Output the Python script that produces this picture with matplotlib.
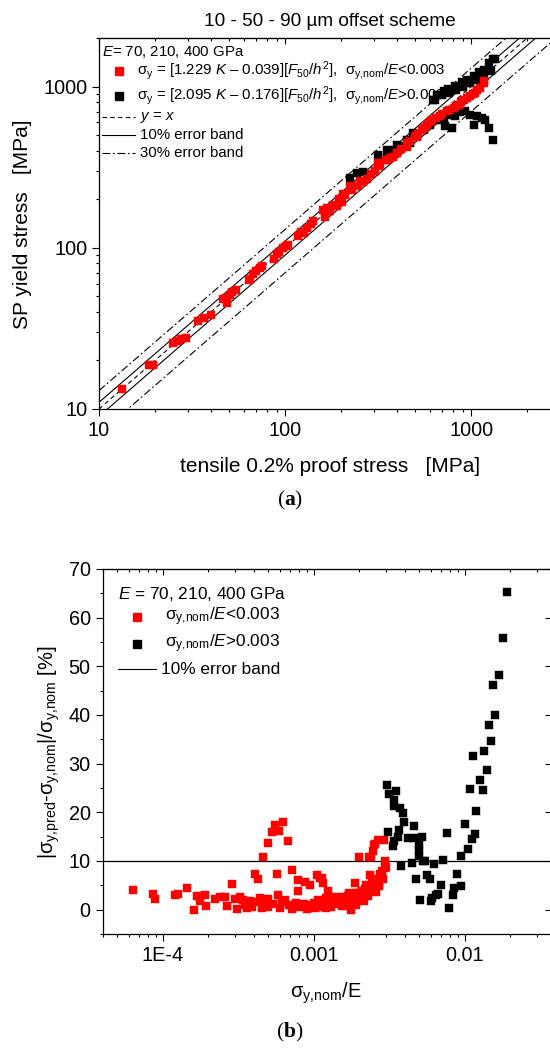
import matplotlib
matplotlib.use("Agg")
import matplotlib.pyplot as plt
from matplotlib.lines import Line2D
from matplotlib.ticker import LogLocator, NullFormatter, MultipleLocator
import numpy as np

plt.rcParams['font.family'] = 'Liberation Sans'
plt.rcParams['mathtext.fontset'] = 'custom'
plt.rcParams['mathtext.rm'] = 'Liberation Sans'
plt.rcParams['mathtext.it'] = 'Liberation Sans:italic'
plt.rcParams['mathtext.bf'] = 'Liberation Serif:bold'
plt.rcParams['mathtext.default'] = 'regular'

# (a) tensile proof stress vs SP yield stress [MPa]
top_red_x = [13.3, 18.6, 19.6, 24.9, 26.7, 27.5, 29.4, 34.2, 36.5, 39.8, 46.3, 48, 49, 50.6, 52, 54.5,
             63.7, 65, 67, 70, 73, 75, 87, 90, 93, 97, 101, 104, 118, 121, 126, 131, 137, 142,
             160, 163, 164, 168, 174, 180, 181, 190, 196, 198, 203, 205, 210, 223, 230, 245, 253,
             262, 275, 290, 305, 316, 324, 349, 353, 367, 381, 398, 400, 420, 451, 453, 470, 500,
             513, 520, 543, 560, 578, 600, 615, 650, 681, 700, 740, 760, 804, 830, 855, 880, 910,
             950, 988, 1020, 1051, 1080, 1117, 1167, 1175]
top_red_y = [13.3, 18.7, 18.7, 25.7, 26.3, 27, 27.6, 35.1, 36.8, 38.2, 47.8, 49, 45.5, 51.3, 53, 55.1,
             63.5, 64, 68.3, 72, 75.1, 77, 85.3, 92, 94, 99, 102, 104, 118, 125, 124, 133, 140, 146,
             172, 161, 156, 176, 169, 184, 181, 182, 200, 199, 191, 215, 213, 240, 228, 240, 258,
             255, 268, 285, 300, 337, 320, 352, 352, 361, 367, 387, 389, 412, 447, 424, 462, 491,
             489, 505, 541, 555, 581, 600, 624, 640, 654, 680, 703, 720, 738, 760, 773, 800, 830,
             850, 871, 900, 914, 950, 981, 1079, 1054]

top_black_x = [223, 244, 263, 316, 324, 352, 353, 382, 400, 424, 453, 470, 488, 511, 555, 603,
               627, 640, 654, 698, 710, 762, 755, 820, 830, 891, 906, 948, 988, 1029, 1077, 1095,
               1165, 1175, 1254, 1282, 1309, 1346,
               667, 710, 725, 771, 787, 820, 873, 929, 988, 1038, 1073, 1141, 1189, 1240, 1309]
top_black_y = [272, 292, 297, 378, 352, 378, 406, 406, 437, 426, 469, 447, 518, 491, 541, 581,
               830, 830, 892, 891, 935, 918, 968, 1014, 957, 1064, 1000, 1105, 1059, 1159, 1105, 1227,
               1275, 1188, 1403, 1240, 1486, 1472,
               623, 640, 566, 670, 554, 660, 692, 703, 670, 581, 654, 640, 623, 554, 469]

# (b) deviation [%] vs sigma_y,nom/E
bot_red_x = [6.4e-5, 8.7e-5, 8.9e-5, 1.21e-4, 1.27e-4, 1.44e-4, 1.62e-4, 1.68e-4, 1.77e-4, 1.9e-4,
             1.95e-4, 2.22e-4, 2.4e-4, 2.59e-4, 2.66e-4, 2.86e-4, 3.01e-4, 3.09e-4, 3.25e-4, 3.42e-4,
             3.5e-4, 3.6e-4, 3.79e-4, 3.9e-4, 4.08e-4, 4.2e-4, 4.3e-4, 4.41e-4, 4.53e-4, 4.65e-4,
             4.7e-4, 4.96e-4, 4.96e-4, 5.0e-4, 5.27e-4, 5.4e-4, 5.55e-4, 5.75e-4, 5.83e-4, 5.93e-4,
             6.0e-4, 6.2e-4, 6.3e-4, 6.45e-4, 6.73e-4, 6.9e-4, 7.15e-4, 7.2e-4, 7.34e-4, 7.6e-4,
             7.83e-4, 7.83e-4, 8.0e-4, 8.33e-4, 8.6e-4, 8.77e-4, 9.0e-4, 9.45e-4, 9.6e-4, 1.0e-3,
             1.02e-3, 1.06e-3, 1.07e-3, 1.08e-3, 1.11e-3, 1.13e-3, 1.15e-3, 1.16e-3, 1.2e-3, 1.21e-3,
             1.24e-3, 1.25e-3, 1.3e-3, 1.31e-3, 1.35e-3, 1.38e-3, 1.4e-3, 1.45e-3, 1.46e-3, 1.5e-3,
             1.53e-3, 1.55e-3, 1.6e-3, 1.62e-3, 1.65e-3, 1.7e-3, 1.71e-3, 1.75e-3, 1.78e-3, 1.8e-3,
             1.85e-3, 1.88e-3, 1.9e-3, 1.92e-3, 1.95e-3, 2.0e-3, 2.0e-3, 2.06e-3, 2.1e-3, 2.15e-3,
             2.2e-3, 2.23e-3, 2.3e-3, 2.33e-3, 2.35e-3, 2.38e-3, 2.4e-3, 2.45e-3, 2.46e-3, 2.5e-3,
             2.51e-3, 2.55e-3, 2.55e-3, 2.6e-3, 2.65e-3, 2.69e-3, 2.7e-3, 2.75e-3, 2.77e-3, 2.85e-3,
             2.89e-3, 2.93e-3, 2.95e-3, 2.96e-3, 3.0e-3]
bot_red_y = [4.0, 3.3, 2.2, 3.1, 3.3, 4.4, 0.0, 2.9, 1.7, 3.1,
             0.7, 2.2, 2.7, 2.7, 0.8, 5.3, 2.2, 0.1, 2.6, 2.0,
             1.0, 0.3, 1.7, 0.5, 7.4, 1.5, 6.3, 2.4, 0.3, 10.8,
             1.8, 13.7, 2.2, 0.6, 16.0, 1.2, 17.4, 7.4, 3.1, 16.2,
             0.4, 1.5, 18.1, 2.0, 14.2, 1.0, 8.1, 0.2, 0.7, 1.3,
             6.0, 3.8, 0.5, 0.8, 1.1, 5.6, 0.2, 5.1, 0.9, 1.4,
             0.3, 7.2, 2.0, 0.5, 6.5, 6.5, 1.0, 5.5, 2.4, 0.3,
             3.8, 1.2, 0.6, 2.7, 1.8, 1.4, 2.6, 1.1, 2.1, 2.0,
             2.7, 0.8, 2.3, 0.8, 1.5, 2.9, 3.4, 1.2, 0.0, 3.0,
             2.0, 5.5, 1.0, 3.4, 3.5, 10.8, 2.5, 2.1, 3.8, 1.8,
             4.3, 5.1, 2.9, 10.9, 7.2, 10.8, 4.5, 5.8, 12.0, 13.3,
             4.1, 6.4, 13.4, 3.6, 14.4, 4.8, 5.5, 7.4, 7.2, 8.0,
             6.2, 14.3, 9.9, 8.5, 8.8]

bot_black_x = [0.0191, 0.018, 0.0169, 0.0153, 0.0158, 0.0144, 0.015, 0.0134, 0.0114, 0.0141,
               0.0127, 0.0108, 0.0132, 0.0119, 0.0101, 0.0117, 0.0112, 0.0105, 0.0095, 0.0089,
               0.0094, 0.0085, 0.0084, 0.00787, 0.00762, 0.00717, 0.00699, 0.0067, 0.0063, 0.0065,
               0.0061, 0.006, 0.00593, 0.00561, 0.00506, 0.00547, 0.00528, 0.00477, 0.00448, 0.00501,
               0.00501, 0.00496, 0.00522, 0.00464, 0.00423, 0.00459, 0.00378, 0.00313, 0.00333, 0.00341,
               0.0036, 0.00369, 0.00394, 0.00388, 0.00374, 0.00341, 0.00338, 0.0035, 0.00316, 0.00308]
bot_black_y = [65.2, 55.9, 48.2, 46.2, 40.1, 38.0, 34.7, 32.6, 31.6, 28.7,
               26.6, 24.7, 24.5, 20.2, 17.7, 15.6, 14.5, 12.4, 11.0, 7.4,
               4.9, 4.4, 3.1, 0.4, 15.7, 10.2, 5.0, 3.3, 9.4, 3.0,
               2.3, 1.8, 6.3, 7.1, 1.9, 10.0, 9.9, 6.3, 9.5, 11.1,
               12.3, 13.3, 14.9, 14.7, 14.7, 17.1, 9.0, 15.9, 13.1, 14.1,
               15.0, 16.4, 18.1, 19.9, 20.9, 21.2, 22.6, 24.3, 23.8, 25.7]

band_10 = [1.1, 0.9]
band_30 = [1.3, 0.7]
top_lim = [10, 3000]
top_ylim = [10, 2000]
top_ticks = [10, 100, 1000]
top_ticklabels = ['10', '100', '1000']
bot_xlim = [4e-5, 0.037]
bot_ylim = [-5, 70]
bot_xticks = [1e-4, 1e-3, 1e-2]
bot_xticklabels = ['1E-4', '0.001', '0.01']
bot_yticks = [0, 10, 20, 30, 40, 50, 60, 70]
error_limit = 10

W, H = 550, 1048


def fx(px):
    return px / W


def fy(py):
    return 1 - py / H


fig = plt.figure(figsize=(W / 100, H / 100), dpi=100)

MS = 5.6
tick_kw = dict(labelsize=14.3, width=0.8)
SIG_NOM = r'$\sigma_{y{,}nom}$'

# ---------- (a) ----------
ax1 = fig.add_axes([fx(99), fy(409), (560 - 99) / W, (409 - 38) / H])
ax1.set_xscale('log')
ax1.set_yscale('log')
xs = np.array(top_lim, dtype=float)
ax1.plot(xs, xs, color='k', lw=0.8, ls=(0, (4, 3)))
for f in band_10:
    ax1.plot(xs, f * xs, color='k', lw=0.8, ls='-')
for f in band_30:
    ax1.plot(xs, f * xs, color='k', lw=0.8, ls=(0, (7, 2.5, 1.5, 2.5)))
ax1.plot(top_black_x, top_black_y, ls='none', marker='s', ms=MS, color='black', mew=0.3, zorder=3)
ax1.plot(top_red_x, top_red_y, ls='none', marker='s', ms=MS, color='red', mew=0.3, zorder=4)
ax1.set_xlim(top_lim)
ax1.set_ylim(top_ylim)
ax1.set_xticks(top_ticks, top_ticklabels)
ax1.set_yticks(top_ticks, top_ticklabels)
for a in (ax1.xaxis, ax1.yaxis):
    a.set_minor_locator(LogLocator(base=10, subs=np.arange(2, 10)))
    a.set_minor_formatter(NullFormatter())
ax1.tick_params(which='major', direction='out', length=5, **tick_kw)
ax1.tick_params(which='minor', direction='out', length=2.5, width=0.8)
sec1 = ax1.secondary_xaxis('top')
sec1.set_xticks(top_ticks)
sec1.xaxis.set_minor_locator(LogLocator(base=10, subs=np.arange(2, 10)))
sec1.xaxis.set_minor_formatter(NullFormatter())
sec1.tick_params(which='major', direction='in', length=4.5, width=0.8, labeltop=False)
sec1.tick_params(which='minor', direction='in', length=2.5, width=0.8)
for s in ax1.spines.values():
    s.set_linewidth(0.9)

fig.text(fx(330), fy(22), '10 - 50 - 90 µm offset scheme', ha='center', va='center', fontsize=13.7)
fig.text(fx(23), fy(224), 'SP yield stress   [MPa]', rotation=90, ha='center', va='center', fontsize=15)
fig.text(fx(330), fy(467), 'tensile 0.2% proof stress   [MPa]', ha='center', va='center', fontsize=15)
fig.text(fx(290), fy(500), r'($\mathbf{a}$)', family='Liberation Serif', ha='center', va='center', fontsize=15.5)

# legend (a)
lf = 10.8
fig.text(fx(102), fy(52), r'$\mathit{E}$= 70, 210, 400 GPa', va='center', fontsize=lf)
fig.add_artist(Line2D([fx(119)], [fy(71)], marker='s', ms=MS, color='red', ls='none', transform=fig.transFigure))
fig.text(fx(137), fy(71), r'$\sigma_y$ = [1.229 $\mathit{K}$ – 0.039][$\mathit{F}_{50}$/$\mathit{h}^2$],  '
         + SIG_NOM + r'/$\mathit{E}$<0.003', va='center', fontsize=lf)
fig.add_artist(Line2D([fx(119)], [fy(96)], marker='s', ms=MS, color='black', ls='none', transform=fig.transFigure))
fig.text(fx(137), fy(96), r'$\sigma_y$ = [2.095 $\mathit{K}$ – 0.176][$\mathit{F}_{50}$/$\mathit{h}^2$],  '
         + SIG_NOM + r'/$\mathit{E}$>0.003', va='center', fontsize=lf)
leg_lines = [(117, (0, (4, 3)), r'$\mathit{y}$ = $\mathit{x}$'),
             (135, '-', '10% error band'),
             (153, (0, (7, 2.5, 1.5, 2.5)), '30% error band')]
for yy, st, lab in leg_lines:
    fig.add_artist(Line2D([fx(102), fx(135)], [fy(yy), fy(yy)], color='k', lw=0.8, ls=st,
                          transform=fig.transFigure))
    fig.text(fx(140), fy(yy), lab, va='center', fontsize=lf)

# ---------- (b) ----------
ax2 = fig.add_axes([fx(102.5), fy(934), 448 / W, (934 - 569) / H])
ax2.set_xscale('log')
ax2.axhline(error_limit, color='k', lw=0.9)
ax2.plot(bot_red_x, bot_red_y, ls='none', marker='s', ms=MS, color='red', mew=0.3, zorder=3)
ax2.plot(bot_black_x, bot_black_y, ls='none', marker='s', ms=MS, color='black', mew=0.3, zorder=3)
ax2.set_xlim(bot_xlim)
ax2.set_ylim(bot_ylim)
ax2.set_xticks(bot_xticks, bot_xticklabels)
ax2.xaxis.set_minor_locator(LogLocator(base=10, subs=np.arange(2, 10)))
ax2.xaxis.set_minor_formatter(NullFormatter())
ax2.set_yticks(bot_yticks)
ax2.yaxis.set_minor_locator(MultipleLocator(5))
ax2.tick_params(which='major', direction='out', length=5, **tick_kw)
ax2.tick_params(which='minor', direction='out', length=2.5, width=0.8)
sec2 = ax2.secondary_xaxis('top')
sec2.set_xticks(bot_xticks)
sec2.xaxis.set_minor_locator(LogLocator(base=10, subs=np.arange(2, 10)))
sec2.xaxis.set_minor_formatter(NullFormatter())
sec2.tick_params(which='major', direction='in', length=4.5, width=0.8, labeltop=False)
sec2.tick_params(which='minor', direction='in', length=2.5, width=0.8)
sec3 = ax2.secondary_yaxis('right')
sec3.set_yticks(bot_yticks)
sec3.tick_params(which='major', direction='in', length=4.5, width=0.8, labelright=False)
for s in ax2.spines.values():
    s.set_linewidth(0.9)

fig.text(fx(49), fy(752), r'|$\sigma_{y{,}pred}$-' + SIG_NOM + '|/' + SIG_NOM + ' [%]', rotation=90,
         ha='center', va='center', fontsize=14.5)
fig.text(fx(326), fy(993), SIG_NOM + '/E', ha='center', va='center', fontsize=14.5)
fig.text(fx(290), fy(1032), r'($\mathbf{b}$)', family='Liberation Serif', ha='center', va='center', fontsize=15.5)

# legend (b)
lf2 = 12.4
fig.text(fx(118), fy(594), r'$\mathit{E}$ = 70, 210, 400 GPa', va='center', fontsize=lf2)
fig.add_artist(Line2D([fx(137)], [fy(617)], marker='s', ms=MS, color='red', ls='none', transform=fig.transFigure))
fig.text(fx(165), fy(617), SIG_NOM + r'/$\mathit{E}$<0.003', va='center', fontsize=lf2)
fig.add_artist(Line2D([fx(137)], [fy(644)], marker='s', ms=MS, color='black', ls='none', transform=fig.transFigure))
fig.text(fx(165), fy(644), SIG_NOM + r'/$\mathit{E}$>0.003', va='center', fontsize=lf2)
fig.add_artist(Line2D([fx(118), fx(156)], [fy(669), fy(669)], color='k', lw=0.8, transform=fig.transFigure))
fig.text(fx(161), fy(669), '10% error band', va='center', fontsize=lf2)

fig.savefig('out.png', dpi=100)
